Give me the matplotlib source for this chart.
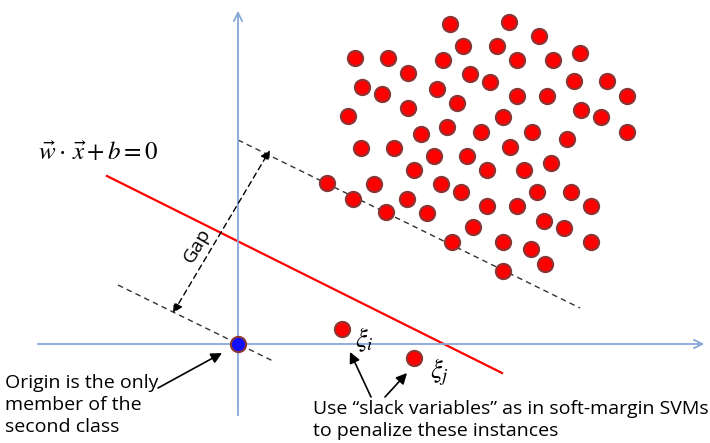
import numpy as np
from matplotlib import pyplot as plt

# positive class points (origin at the blue dot, y up)
pos_px_x = [450, 509, 539, 463, 497, 355, 388, 443, 517, 553, 580, 408, 470,
            490, 574, 607, 362, 382, 437, 517, 547, 627, 457, 408, 348, 503,
            581, 601, 447, 421, 481, 532, 567, 627, 361, 394, 510, 434, 467,
            414, 487, 524, 551, 327, 374, 441, 461, 353, 407, 537, 571, 386,
            427, 487, 517, 591, 544, 564, 473, 452, 503, 531, 591, 545, 503]
pos_px_y = [24, 22, 36, 46, 46, 58, 58, 60, 60, 60, 53, 73, 74,
            82, 81, 81, 87, 94, 89, 96, 96, 96, 103, 108, 116, 117,
            110, 117, 127, 134, 132, 132, 139, 132, 148, 148, 147, 156, 156,
            170, 170, 170, 163, 183, 184, 184, 192, 199, 199, 192, 192, 212,
            213, 206, 206, 206, 221, 228, 227, 242, 242, 249, 242, 264, 271]
# slack points
slack_px_x = [342, 414]
slack_px_y = [329, 358]

ox, oy = 238, 344
pos_x = np.array(pos_px_x) - ox
pos_y = oy - np.array(pos_px_y)
slack_x = np.array(slack_px_x) - ox
slack_y = oy - np.array(slack_px_y)

plt.rcParams['mathtext.fontset'] = 'stix'

fig = plt.figure(figsize=(7.1, 4.43), dpi=100)
ax = fig.add_axes([0, 0, 1, 1])
ax.set_xlim(-ox, 710 - ox)
ax.set_ylim(oy - 443, oy)
ax.axis('off')

axis_col = '#86a8d8'
ax.annotate('', xy=(0, oy - 8), xytext=(0, oy - 418),
            arrowprops=dict(arrowstyle='->', color=axis_col, lw=1.3,
                            mutation_scale=15))
ax.annotate('', xy=(707 - ox, 0), xytext=(35 - ox, 0),
            arrowprops=dict(arrowstyle='->', color=axis_col, lw=1.3,
                            mutation_scale=15))

# separating line
ax.plot([107 - ox, 502 - ox], [oy - 176, oy - 373], color='red', lw=1.6)
# margins
ax.plot([238 - ox, 580 - ox], [oy - 140, oy - 308], color='#333333',
        lw=1.0, ls=(0, (4, 3)))
ax.plot([118 - ox, 275 - ox], [oy - 285, oy - 362], color='#333333',
        lw=1.0, ls=(0, (4, 3)))

# gap arrow
ax.annotate('', xy=(270 - ox, oy - 150), xytext=(173 - ox, oy - 313),
            arrowprops=dict(arrowstyle='<|-|>', color='black', lw=1.0,
                            ls=(0, (4, 3)), mutation_scale=14,
                            shrinkA=0, shrinkB=0))
ax.text(197 - ox, oy - 245, 'Gap', rotation=60, ha='center', va='center',
        fontsize=14, family='Open Sans')

ax.scatter(pos_x, pos_y, s=120, c='red', edgecolors='#8b3535',
           linewidths=1.5, zorder=3)
ax.scatter(slack_x, slack_y, s=120, c='red', edgecolors='#8b3535',
           linewidths=1.5, zorder=3)
ax.scatter([0], [0], s=120, c='#1010ff', edgecolors='#8b3535',
           linewidths=1.5, zorder=3)

ax.text(38 - ox, oy - 153, r'$\vec{w}\cdot\,\vec{x}+b=0$', fontsize=18,
        ha='left', va='center')
ax.text(355 - ox, oy - 340, r'$\xi_i$', fontsize=19, ha='left', va='center')
ax.text(430 - ox, oy - 372, r'$\xi_j$', fontsize=19, ha='left', va='center')

ax.text(5 - ox, oy - 405, 'Origin is the only\nmember of the\nsecond class',
        fontsize=14, family='Open Sans', ha='left', va='center',
        linespacing=1.25)
ax.annotate('', xy=(222 - ox, oy - 353), xytext=(158 - ox, oy - 388),
            arrowprops=dict(arrowstyle='-|>', color='black', lw=1.2,
                            mutation_scale=16, shrinkA=0, shrinkB=0))

ax.text(313 - ox, oy - 420,
        'Use \u201cslack variables\u201d as in soft-margin SVMs\n'
        'to penalize these instances',
        fontsize=14, family='Open Sans', ha='left', va='center',
        linespacing=1.25)
ax.annotate('', xy=(350 - ox, oy - 352), xytext=(371 - ox, oy - 397),
            arrowprops=dict(arrowstyle='-|>', color='black', lw=1.2,
                            mutation_scale=16, shrinkA=0, shrinkB=0))
ax.annotate('', xy=(407 - ox, oy - 373), xytext=(385 - ox, oy - 397),
            arrowprops=dict(arrowstyle='-|>', color='black', lw=1.2,
                            mutation_scale=16, shrinkA=0, shrinkB=0))

fig.savefig('out.png', dpi=100)
